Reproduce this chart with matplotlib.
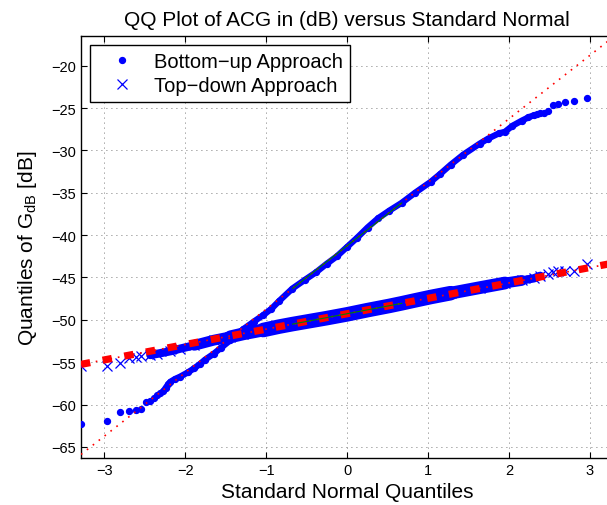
import matplotlib
matplotlib.use('Agg')
import matplotlib.pyplot as plt
import numpy as np
from statistics import NormalDist

plt.rcParams['font.family'] = ['Liberation Sans', 'DejaVu Sans']
plt.rcParams['mathtext.fontset'] = 'custom'
plt.rcParams['mathtext.rm'] = 'Liberation Sans'
plt.rcParams['mathtext.it'] = 'Liberation Sans:italic'

# sample size of each approach
N = 1000

# sorted ACG samples (dB) at the given ranks
bu_rank = [1, 2, 3, 4, 5, 6, 7, 8, 9, 10, 11, 12, 13, 14, 15, 17, 20, 25, 30, 35,
           40, 50, 60, 75, 100, 125, 150, 175, 200, 250, 300, 350, 400, 450, 500,
           550, 600, 650, 700, 750, 800, 850, 875, 900, 925, 950, 960, 970, 975,
           980, 985, 988, 990, 991, 992, 993, 994, 995, 996, 997, 998, 999, 1000]
bu_gdb = [-62.3, -61.9, -60.85, -60.7, -60.6, -60.5, -59.7, -59.6, -59.2, -58.9,
          -58.6, -58.45, -58.0, -57.6, -57.3, -57.0, -56.7, -56.2, -55.7, -55.2,
          -54.7, -54.0, -53.3, -52.4, -51.1, -50.2, -49.45, -48.7, -47.8, -46.3,
          -45.3, -44.4, -43.4, -42.5, -41.4, -40.3, -39.1, -38.0, -37.1, -36.2,
          -35.0, -33.7, -32.8, -31.7, -30.5, -29.2, -28.6, -28.0, -27.8, -27.1,
          -26.5, -26.1, -25.85, -25.7, -25.6, -25.55, -25.3, -24.7, -24.55, -24.3,
          -24.15, -23.85, -23.3]

td_rank = [1, 2, 3, 4, 5, 6, 8, 10, 15, 20, 30, 50, 75, 100, 150, 200, 250, 300,
           400, 500, 600, 700, 750, 800, 850, 900, 950, 975, 985, 990, 992, 994,
           995, 996, 997, 998, 999, 1000]
td_gdb = [-55.4, -55.4, -55.1, -54.5, -54.4, -54.3, -54.15, -54.0, -53.7, -53.4,
          -53.0, -52.4, -52.0, -51.65, -51.2, -50.8, -50.5, -50.25, -49.8, -49.35,
          -48.85, -48.35, -48.05, -47.7, -47.3, -46.85, -46.2, -45.65, -45.35,
          -45.1, -44.8, -44.55, -44.4, -44.25, -44.2, -44.2, -43.4, -43.0]

nd = NormalDist()


def theo(ranks):
    return np.array([nd.inv_cdf((r - 0.5) / N) for r in ranks])


def quartile_line(ranks, vals):
    q1x, q3x = nd.inv_cdf(0.25), nd.inv_cdf(0.75)
    q1y = vals[ranks.index(250)]
    q3y = vals[ranks.index(750)]
    slope = (q3y - q1y) / (q3x - q1x)
    return slope, q1y - slope * q1x, q1x, q3x


bu_x = theo(bu_rank)
td_x = theo(td_rank)
bu_y = np.array(bu_gdb)
td_y = np.array(td_gdb)
bu_r = np.array(bu_rank)
td_r = np.array(td_rank)

fig = plt.figure(figsize=(6.07, 5.06), dpi=100)
ax = fig.add_axes([0.1334, 0.0929, 0.877, 0.834])

# dense bands (where individual samples merge), wider towards the centre
for lo, hi, w in [(8, 992, 6.0), (30, 985, 7.8), (75, 975, 9.2), (150, 900, 10.5)]:
    m = (td_r >= lo) & (td_r <= hi)
    ax.plot(td_x[m], td_y[m], color='blue', lw=w, solid_capstyle='round', zorder=2)
m = (bu_r >= 12) & (bu_r <= 990)
ax.plot(bu_x[m], bu_y[m], color='blue', lw=4.5, solid_capstyle='round', zorder=2)

h1, = ax.plot(bu_x, bu_y, '.', color='blue', ms=8.5, label='Bottom\u2212up Approach', zorder=3)
h2, = ax.plot(td_x, td_y, 'x', color='blue', ms=6.5, mew=0.9, label='Top\u2212down Approach', zorder=3)

xr = np.array([-3.29, 3.29])
for ranks, vals, thick in [(bu_rank, bu_gdb, False), (td_rank, td_gdb, True)]:
    s, b, q1x, q3x = quartile_line(ranks, vals)
    ax.plot(xr, s * xr + b, color='red', lw=1.2, ls=(0, (1, 3.5)), zorder=4)
    if thick:
        ax.plot(xr, s * xr + b, color='red', lw=5.2, ls=(0, (1.3, 1.75)),
                dash_capstyle='butt', zorder=5)
    qx = np.array([q1x, q3x])
    ax.plot(qx, s * qx + b, color='green', lw=0.8, zorder=6)

ax.set_xlim(-3.29, 3.29)
ax.set_ylim(-66.3, -16.5)
ax.set_xticks(range(-3, 4))
ax.set_yticks(range(-65, -19, 5))
ax.tick_params(direction='in', top=True, right=True, length=4, labelsize=10.5)
ax.grid(True, color='0.3', lw=0.6, ls=(0, (1, 5)))
ax.set_axisbelow(True)
for sp in ax.spines.values():
    sp.set_linewidth(1.0)

ax.set_title('QQ Plot of ACG in (dB) versus Standard Normal', fontsize=15, pad=8)
ax.set_xlabel('Standard Normal Quantiles', fontsize=15, labelpad=4)
ax.set_ylabel('Quantiles of G$_{\\mathrm{dB}}$ [dB]', fontsize=15, labelpad=9)

leg = ax.legend(handles=[h1, h2], loc='upper left', fontsize=14.5, fancybox=False,
                edgecolor='black', framealpha=1, borderaxespad=0.45, handletextpad=0.35,
                handlelength=2.5, labelspacing=0.25, borderpad=0.35)
leg.get_frame().set_linewidth(1.0)

fig.savefig('out.png', dpi=100)
